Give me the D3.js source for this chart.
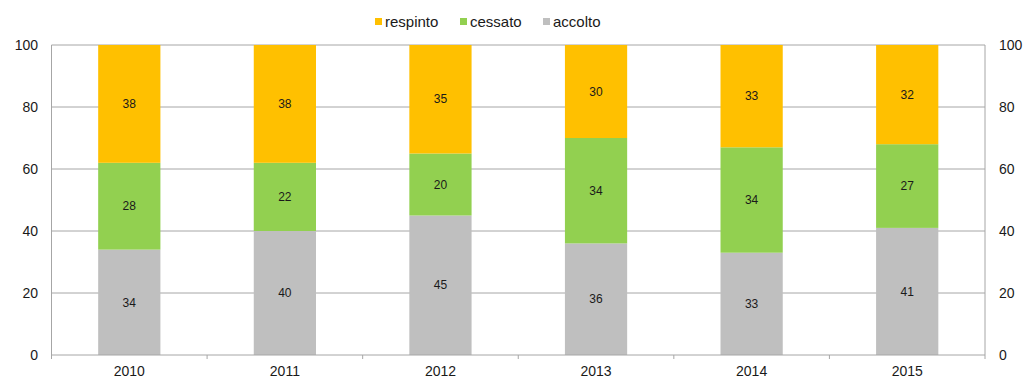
<!DOCTYPE html>
<html>
<head>
<meta charset="utf-8">
<script src="https://cdn.jsdelivr.net/npm/d3@7"></script>
<style>
  html, body { margin: 0; padding: 0; background: #fff; }
  svg { display: block; font-family: "Liberation Sans", Arial, sans-serif; }
</style>
</head>
<body>
<svg id="chart" width="1024" height="378"></svg>
<script>
// Years on the x axis
const years = ["2010", "2011", "2012", "2013", "2014", "2015"];
// Stacked shares (percent), bottom to top
const accolto  = [34, 40, 45, 36, 33, 41];
const cessato  = [28, 22, 20, 34, 34, 27];
const respinto = [38, 38, 35, 30, 33, 32];
// Series names, stack order and legend order
const stackKeys  = ["accolto", "cessato", "respinto"];
const legendKeys = ["respinto", "cessato", "accolto"];
const yTicks = [0, 20, 40, 60, 80, 100];

const colors = { respinto: "#FFC000", cessato: "#92D050", accolto: "#BFBFBF" };

const rows = years.map((y, i) => ({ year: y, accolto: accolto[i], cessato: cessato[i], respinto: respinto[i] }));

const svg = d3.select("#chart");
const m = { left: 51.5, right: 985, top: 45, bottom: 355 };

const x = d3.scaleBand().domain(years).range([m.left, m.right]).paddingInner(0.6).paddingOuter(0.3);
const y = d3.scaleLinear().domain([0, 100]).range([m.bottom, m.top]);

const gridColor = "#A6A6A6";

// horizontal gridlines
svg.append("g").selectAll("line").data(yTicks.filter(t => t > 0)).join("line")
  .attr("x1", m.left).attr("x2", m.right)
  .attr("y1", d => y(d)).attr("y2", d => y(d))
  .attr("stroke", gridColor).attr("stroke-width", 1);

// stacked bars
const stack = d3.stack().keys(stackKeys)(rows);
const layers = svg.append("g").selectAll("g").data(stack).join("g")
  .attr("fill", d => colors[d.key]);
layers.selectAll("rect").data(d => d).join("rect")
  .attr("x", d => x(d.data.year))
  .attr("width", x.bandwidth())
  .attr("y", d => y(d[1]))
  .attr("height", d => y(d[0]) - y(d[1]));

// value labels
layers.selectAll("text").data(d => d.map(v => Object.assign({ key: d.key }, v))).join("text")
  .attr("x", d => x(d.data.year) + x.bandwidth() / 2)
  .attr("y", d => y((d[0] + d[1]) / 2))
  .attr("dy", "0.35em")
  .attr("text-anchor", "middle")
  .attr("fill", "#1a1a1a")
  .attr("font-size", 12)
  .text(d => d.data[d.key]);

// left & right axis lines
svg.append("line").attr("x1", m.left).attr("x2", m.left).attr("y1", m.top).attr("y2", m.bottom)
  .attr("stroke", gridColor);
svg.append("line").attr("x1", m.right).attr("x2", m.right).attr("y1", m.top).attr("y2", m.bottom)
  .attr("stroke", gridColor);

// x axis baseline with ticks at category boundaries
svg.append("line").attr("x1", m.left).attr("x2", m.right).attr("y1", m.bottom).attr("y2", m.bottom)
  .attr("stroke", gridColor);
const bounds = d3.range(years.length + 1).map(i => m.left + i * (m.right - m.left) / years.length);
svg.append("g").selectAll("line").data(bounds).join("line")
  .attr("x1", d => d).attr("x2", d => d)
  .attr("y1", m.bottom).attr("y2", m.bottom + 4)
  .attr("stroke", gridColor);

// x labels
svg.append("g").selectAll("text").data(years).join("text")
  .attr("x", d => x(d) + x.bandwidth() / 2)
  .attr("y", 376)
  .attr("text-anchor", "middle")
  .attr("font-size", 14)
  .attr("fill", "#1a1a1a")
  .text(d => d);

// y labels (left and right)
svg.append("g").selectAll("text").data(yTicks).join("text")
  .attr("x", 38).attr("y", d => y(d)).attr("dy", "0.35em")
  .attr("text-anchor", "end").attr("font-size", 14).attr("fill", "#1a1a1a")
  .text(d => d);
svg.append("g").selectAll("text").data(yTicks).join("text")
  .attr("x", 999).attr("y", d => y(d)).attr("dy", "0.35em")
  .attr("text-anchor", "start").attr("font-size", 14).attr("fill", "#1a1a1a")
  .text(d => d);

// legend
const legendX = [375, 460, 543];
const lg = svg.append("g").selectAll("g").data(legendKeys).join("g")
  .attr("transform", (d, i) => `translate(${legendX[i]},22)`);
lg.append("rect").attr("x", 0).attr("y", -4).attr("width", 7).attr("height", 7)
  .attr("fill", d => colors[d]);
lg.append("text").attr("x", 10).attr("y", 0).attr("dy", "0.35em")
  .attr("font-size", 15).attr("fill", "#1a1a1a").text(d => d);
</script>
</body>
</html>
